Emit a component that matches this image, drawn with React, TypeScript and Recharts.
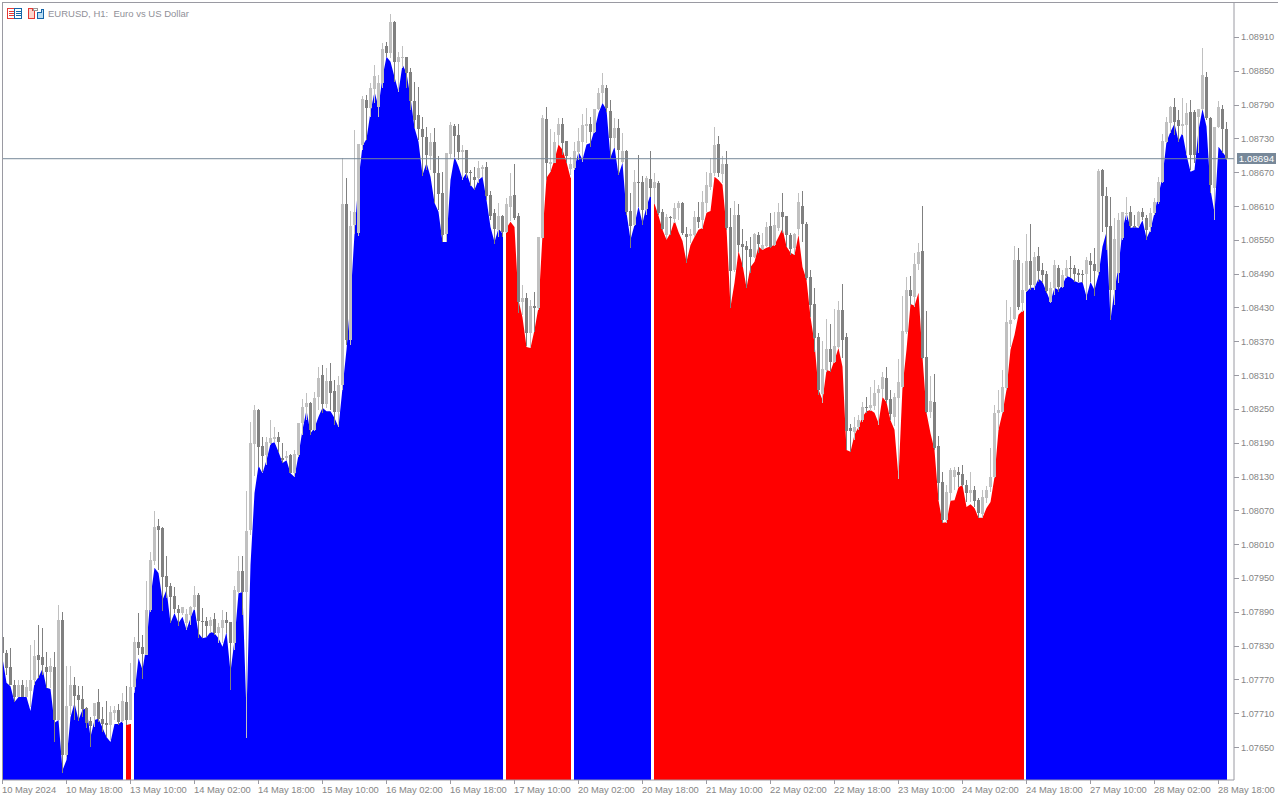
import React from "react";
import { ComposedChart, Area, Bar, XAxis, YAxis, ReferenceLine } from "recharts";

// All prices are stored as points above 1.07000 (1 point = 0.00001).
const BASE_PRICE = 1.07;
const highs = [
847,822,826,769,769,769,769,831,840,867,861,819,808,819,902,890,794,794,774,758,
758,721,703,728,753,721,732,723,723,726,746,758,799,845,888,849,945,996,1069,1055,
1041,989,941,934,902,899,895,900,936,923,897,881,881,888,870,893,890,872,936,989,
989,1104,1227,1257,1250,1200,1200,1230,1218,1209,1190,1175,1170,1177,1225,1268,1278,1262,1280,1325,
1328,1323,1332,1301,1309,1696,1660,1601,1745,1720,1806,1807,1829,1861,1843,1900,1901,1951,1939,1884,
1894,1875,1855,1830,1822,1768,1751,1740,1749,1699,1671,1704,1759,1756,1756,1719,1710,1674,1680,1690,
1683,1688,1637,1605,1616,1594,1625,1669,1685,1598,1470,1456,1443,1458,1555,1772,1786,1747,1742,1767,
1767,1726,1697,1724,1749,1774,1784,1768,1783,1820,1846,1825,1798,1767,1765,1740,1710,1633,1674,1701,
1664,1664,1708,1669,1655,1605,1596,1593,1616,1619,1617,1573,1569,1601,1617,1637,1671,1696,1751,1735,
1699,1708,1607,1619,1614,1569,1548,1555,1562,1564,1562,1582,1598,1600,1616,1633,1593,1562,1562,1633,
1637,1582,1497,1465,1385,1371,1410,1401,1428,1442,1472,1385,1223,1236,1239,1262,1271,1289,1301,1293,
1316,1325,1284,1278,1339,1451,1484,1486,1527,1545,1610,1424,1309,1312,1202,1138,1115,1145,1147,1147,
1151,1124,1138,1113,1092,1106,1113,1181,1257,1284,1319,1443,1431,1539,1536,1509,1561,1578,1529,1538,
1509,1495,1475,1514,1506,1497,1514,1522,1506,1498,1497,1520,1527,1536,1676,1676,1644,1626,1589,1598,
1600,1626,1610,1594,1601,1607,1594,1607,1625,1662,1738,1768,1788,1802,1781,1802,1793,1798,1781,1783,
1891,1848,1768,1751,1797,1790,1759];
const lows = [
795,778,760,730,739,739,739,721,760,772,778,755,755,659,698,604,632,707,698,696,
703,684,650,686,694,677,668,662,698,689,693,689,698,751,813,771,813,890,973,964,
891,914,870,888,865,884,858,867,893,843,843,845,852,849,835,835,852,751,822,923,
884,666,1026,1131,1147,1138,1151,1186,1191,1174,1154,1159,1136,1129,1165,1204,1230,1204,1211,1248,
1243,1252,1248,1222,1218,1284,1364,1364,1561,1557,1710,1727,1768,1793,1768,1820,1875,1873,1830,1813,
1855,1820,1781,1749,1727,1664,1674,1674,1616,1603,1546,1546,1696,1697,1692,1656,1660,1646,1639,1651,
1662,1621,1585,1543,1555,1555,1562,1584,1585,1420,1417,1362,1360,1387,1426,1553,1656,1671,1687,1719,
1701,1687,1665,1674,1692,1688,1722,1715,1740,1781,1793,1777,1696,1713,1665,1687,1594,1536,1575,1609,
1577,1594,1626,1614,1594,1568,1552,1559,1580,1585,1559,1509,1545,1555,1571,1569,1600,1639,1664,1662,
1651,1568,1429,1493,1529,1502,1465,1491,1518,1527,1532,1538,1536,1539,1566,1562,1538,1523,1523,1559,
1546,1479,1413,1351,1275,1261,1316,1316,1332,1358,1341,1177,1174,1195,1213,1227,1243,1246,1248,1222,
1271,1261,1230,1220,1126,1287,1383,1435,1431,1497,1339,1243,1234,1177,1088,1048,1048,1087,1106,1111,
1111,1085,1085,1076,1057,1057,1083,1103,1128,1213,1243,1284,1360,1408,1426,1422,1458,1461,1461,1475,
1474,1456,1438,1452,1458,1465,1483,1483,1475,1475,1474,1443,1475,1451,1488,1564,1532,1408,1435,1474,
1550,1585,1571,1571,1571,1585,1550,1564,1594,1614,1651,1722,1740,1736,1724,1736,1701,1674,1687,1704,
1781,1763,1633,1585,1749,1704,1692];
const opens = [
845,817,792,760,739,760,739,749,769,813,810,792,783,792,698,875,636,723,760,742,
735,719,696,705,730,700,693,689,710,716,696,730,698,757,836,827,813,893,980,1042,
1038,953,936,918,895,888,870,884,899,920,874,874,865,877,852,861,876,872,835,925,
962,925,1035,1188,1248,1184,1168,1190,1197,1200,1163,1163,1168,1136,1168,1225,1253,1260,1213,1271,
1310,1259,1300,1282,1245,1293,1614,1372,1577,1562,1719,1798,1784,1818,1786,1829,1894,1882,1937,1866,
1873,1875,1848,1797,1772,1747,1733,1699,1724,1669,1633,1561,1703,1752,1736,1706,1710,1671,1662,1660,
1676,1680,1630,1598,1568,1593,1564,1609,1630,1593,1440,1447,1385,1433,1429,1553,1765,1685,1687,1736,
1756,1726,1676,1678,1706,1724,1752,1756,1742,1782,1811,1820,1779,1731,1749,1688,1708,1601,1577,1653,
1653,1605,1658,1642,1651,1600,1559,1591,1587,1607,1616,1561,1557,1559,1591,1585,1616,1644,1669,1720,
1667,1685,1573,1497,1594,1543,1539,1534,1520,1559,1534,1539,1575,1541,1571,1600,1593,1559,1536,1570,
1610,1578,1484,1436,1378,1277,1319,1356,1333,1360,1426,1378,1216,1209,1218,1230,1253,1252,1255,1278,
1286,1305,1268,1236,1269,1289,1387,1461,1449,1507,1530,1342,1245,1262,1184,1120,1053,1101,1129,1138,
1135,1115,1101,1106,1088,1064,1092,1111,1129,1243,1245,1287,1401,1410,1514,1438,1459,1513,1470,1522,
1497,1490,1440,1465,1500,1467,1486,1500,1500,1491,1490,1490,1513,1507,1493,1674,1628,1575,1461,1491,
1553,1596,1600,1575,1575,1600,1589,1573,1598,1617,1653,1724,1758,1786,1763,1752,1754,1777,1777,1768,
1782,1839,1767,1642,1751,1782,1747];
const closes = [
817,790,760,739,760,739,757,769,812,804,796,783,794,698,875,636,723,760,741,733,
717,693,687,728,700,691,689,712,716,694,732,698,757,836,826,815,893,982,1040,1035,
952,934,916,895,888,899,886,899,920,874,872,865,876,852,863,876,870,835,929,962,
925,1033,1190,1248,1182,1166,1191,1198,1200,1191,1159,1166,1136,1170,1225,1253,1260,1213,1269,1305,
1259,1300,1278,1245,1293,1614,1372,1575,1600,1720,1800,1784,1820,1841,1829,1889,1882,1937,1866,1875,
1875,1846,1797,1763,1747,1733,1701,1724,1669,1632,1559,1704,1754,1735,1706,1710,1669,1669,1656,1678,
1680,1628,1593,1570,1593,1564,1614,1628,1589,1440,1447,1385,1433,1429,1555,1767,1687,1688,1724,1756,
1722,1699,1685,1708,1726,1754,1756,1742,1782,1811,1825,1784,1731,1749,1710,1708,1600,1575,1653,1651,
1603,1660,1642,1653,1598,1570,1591,1589,1607,1616,1562,1555,1561,1591,1582,1617,1648,1669,1719,1669,
1685,1571,1495,1594,1541,1538,1532,1520,1561,1543,1541,1573,1538,1577,1600,1591,1559,1534,1561,1617,
1578,1483,1435,1376,1284,1321,1356,1333,1362,1426,1372,1211,1211,1218,1230,1253,1252,1257,1278,1286,
1307,1266,1241,1271,1298,1388,1461,1451,1507,1529,1341,1245,1264,1181,1119,1053,1103,1142,1142,1133,
1115,1101,1106,1087,1065,1094,1106,1129,1243,1248,1289,1404,1408,1514,1431,1461,1513,1470,1520,1495,
1488,1459,1465,1506,1467,1488,1500,1498,1490,1488,1488,1514,1506,1495,1672,1628,1573,1461,1552,1585,
1600,1598,1575,1573,1600,1591,1568,1598,1617,1653,1726,1759,1786,1759,1752,1756,1775,1701,1701,1782,
1843,1767,1648,1751,1786,1747,1696];
const signal = [
808,764,758,730,739,739,739,714,764,774,789,755,753,693,698,609,627,703,728,698,
716,719,668,698,700,684,668,659,691,691,696,689,691,746,808,787,831,916,968,959,
911,929,870,888,870,881,858,879,897,852,843,845,854,852,843,828,854,783,840,923,
925,710,973,1101,1149,1136,1159,1188,1191,1174,1154,1159,1136,1129,1168,1213,1248,1207,1216,1236,
1252,1246,1246,1234,1218,1287,1355,1443,1561,1656,1717,1729,1777,1813,1786,1839,1875,1866,1839,1813,
1861,1846,1802,1749,1724,1665,1687,1662,1616,1600,1546,1546,1656,1697,1680,1658,1669,1648,1639,1656,
1662,1621,1573,1546,1570,1561,1571,1582,1573,1443,1412,1360,1358,1390,1431,1559,1660,1671,1692,1719,
1710,1688,1660,1678,1706,1692,1719,1722,1745,1775,1793,1781,1696,1715,1665,1687,1598,1550,1577,1609,
1580,1609,1630,1614,1593,1568,1550,1562,1585,1564,1548,1511,1541,1555,1568,1571,1598,1601,1662,1656,
1648,1571,1431,1474,1530,1506,1465,1502,1511,1538,1532,1536,1538,1541,1555,1570,1538,1527,1523,1559,
1502,1479,1413,1367,1284,1266,1319,1317,1337,1358,1325,1177,1174,1204,1218,1236,1246,1248,1243,1225,
1271,1262,1230,1213,1128,1289,1355,1436,1433,1456,1342,1243,1207,1177,1088,1048,1049,1087,1088,1111,
1115,1076,1081,1074,1057,1057,1074,1085,1129,1213,1243,1284,1355,1381,1417,1424,1458,1465,1465,1481,
1475,1458,1440,1465,1461,1470,1486,1483,1477,1474,1475,1449,1475,1461,1488,1538,1564,1408,1461,1502,
1568,1598,1571,1573,1571,1585,1553,1568,1598,1630,1662,1724,1742,1756,1726,1740,1701,1671,1674,1745,
1782,1751,1639,1598,1715,1706,1696];

const BLUE = "#0000ff";
const RED = "#ff0000";
const segmentFrom = [0, 30.875, 32.875, 125.875, 142.875, 162.875, 255.875];
const segmentTo = [30.125, 32.125, 125.125, 142.125, 162.125, 255.375, 306.125];
const segmentKeys = ["blue", "red", "blue", "red", "blue", "red", "blue"];

const timeLabels = [
  "10 May 2024", "10 May 18:00", "13 May 10:00", "14 May 02:00", "14 May 18:00",
  "15 May 10:00", "16 May 02:00", "16 May 18:00", "17 May 10:00", "20 May 02:00",
  "20 May 18:00", "21 May 10:00", "22 May 02:00", "22 May 18:00", "23 May 10:00",
  "24 May 02:00", "24 May 18:00", "27 May 10:00", "28 May 02:00", "28 May 18:00",
];
const timeTicks = timeLabels.map((_, k) => k * 16);
const priceTicks = [
  650, 710, 770, 830, 890, 950, 1010, 1070, 1130, 1190, 1250, 1310, 1370, 1430,
  1490, 1550, 1610, 1670, 1730, 1790, 1850, 1910,
];
const lastPrice = 1694;
const fmt = (v: number) => (BASE_PRICE + v / 100000).toFixed(5);

type Row = Record<string, any>;
const rows: Row[] = highs.map((h, i) => ({
  x: i,
  range: [lows[i], h],
  open: opens[i],
  close: closes[i],
}));
segmentKeys.forEach((key, s) => {
  rows.forEach((r) => {
    if (Number.isInteger(r.x) && r.x >= segmentFrom[s] && r.x <= segmentTo[s]) r[key] = signal[r.x];
  });
});
segmentKeys.forEach((key, s) => {
  [segmentFrom[s], segmentTo[s]].forEach((x) => {
    if (!Number.isInteger(x)) rows.push({ x, [key]: signal[Math.round(x)] });
  });
});
rows.sort((a, b) => a.x - b.x);

const AXIS = "#9a9aa2";
const TEXT = "#858585";
const FONT = "'Liberation Sans', Arial, sans-serif";

function Candle(props: any) {
  const { x, y, width, height, payload } = props;
  if (!payload || !payload.range) return null;
  const [low, high] = payload.range;
  const cx = Math.floor(x + width / 2);
  const toY = (v: number) => y + ((high - v) / (high - low)) * height;
  const up = payload.close >= payload.open;
  const color = up ? "#c0c0c0" : "#808080";
  const top = toY(Math.max(payload.open, payload.close));
  const bot = toY(Math.min(payload.open, payload.close));
  return (
    <g shapeRendering="crispEdges">
      <rect x={cx} y={y} width={1} height={Math.max(1, height)} fill={color} />
      <rect x={cx - 1} y={top} width={3} height={Math.max(1, bot - top)} fill={color} />
    </g>
  );
}

function TimeTick(props: any) {
  const { x, y, payload } = props;
  const idx = timeTicks.indexOf(payload.value);
  return (
    <g>
      <rect x={Math.floor(x)} y={y - 8} width={1} height={4} fill={AXIS} shapeRendering="crispEdges" />
      <text x={Math.floor(x)} y={793} fontSize={9.4} fontFamily={FONT} fill={TEXT}>
        {timeLabels[idx]}
      </text>
    </g>
  );
}

function PriceTick(props: any) {
  const { y, payload } = props;
  if (payload.value === lastPrice) {
    return (
      <g>
        <rect x={1237} y={Math.round(y) - 6} width={39} height={11} fill="#778899" shapeRendering="crispEdges" />
        <text x={1256.5} y={y + 3.5} textAnchor="middle" fontSize={9.8} fontFamily={FONT} fill="#ffffff">
          {fmt(payload.value)}
        </text>
      </g>
    );
  }
  return (
    <g>
      <rect x={1234} y={Math.round(y)} width={5} height={1} fill={AXIS} shapeRendering="crispEdges" />
      <text x={1241} y={y + 3.5} fontSize={9.2} fontFamily={FONT} fill={TEXT}>
        {fmt(payload.value)}
      </text>
    </g>
  );
}

function Icons() {
  return (
    <svg width={40} height={14} style={{ position: "absolute", left: 6, top: 7 }} shapeRendering="crispEdges">
      <rect x={1.5} y={1.5} width={7} height={10} fill="#fff" stroke="#e53935" />
      <rect x={8.5} y={1.5} width={7} height={10} fill="#fff" stroke="#1565a8" />
      <path d="M3 4.5h5M3 6.5h5M3 8.5h5" stroke="#e53935" />
      <path d="M10 4.5h5M10 6.5h5M10 8.5h5" stroke="#1565a8" />
      <path d="M22.5 1.5h4v2h2v8h-6z" fill="#fbd5cc" stroke="#e53935" />
      <path d="M31.5 11.5h6v-9h-2v3h-4z" fill="#b9dcf2" stroke="#1565a8" />
      <rect x={27.5} y={1.5} width={4} height={2} fill="#fff" stroke="#999" />
    </svg>
  );
}

export default function App() {
  return (
    <div style={{ position: "absolute", left: 0, top: 0, width: 1280, height: 800, background: "#fff", overflow: "hidden" }}>
      <ComposedChart
        width={1280}
        height={800}
        data={rows}
        margin={{ top: 3, right: 0, bottom: 0, left: 2 }}
      >
        <XAxis
          dataKey="x"
          type="number"
          domain={[-0.125, 307.875]}
          allowDataOverflow
          ticks={timeTicks}
          interval={0}
          height={20}
          tickLine={false}
          axisLine={{ stroke: AXIS }}
          tick={<TimeTick />}
        />
        <YAxis
          orientation="right"
          type="number"
          width={46}
          domain={[591.5, 1970.3]}
          allowDataOverflow
          ticks={[...priceTicks, lastPrice]}
          interval={0}
          tickLine={false}
          axisLine={{ stroke: AXIS }}
          tick={<PriceTick />}
        />
        <Area dataKey="blue" type="linear" stroke="none" fill={BLUE} fillOpacity={1} connectNulls={false} dot={false} activeDot={false} isAnimationActive={false} />
        <Area dataKey="red" type="linear" stroke="none" fill={RED} fillOpacity={1} connectNulls={false} dot={false} activeDot={false} isAnimationActive={false} />
        <Bar dataKey="range" barSize={3} shape={<Candle />} isAnimationActive={false} />
        <ReferenceLine y={lastPrice} stroke="#778899" strokeWidth={1} />
      </ComposedChart>
      <div style={{ position: "absolute", left: 0, top: 0, width: 2, height: 800, background: "#fff" }} />
      <div style={{ position: "absolute", left: 2, top: 2, width: 1, height: 778, background: AXIS }} />
      <div style={{ position: "absolute", left: 2, top: 2, width: 1276, height: 1, background: AXIS }} />
      <Icons />
      <div style={{ position: "absolute", left: 48, top: 8, fontFamily: FONT, fontSize: 9.5, lineHeight: "12px", color: "#909098", whiteSpace: "pre" }}>
        {"EURUSD, H1:  Euro vs US Dollar"}
      </div>
    </div>
  );
}
